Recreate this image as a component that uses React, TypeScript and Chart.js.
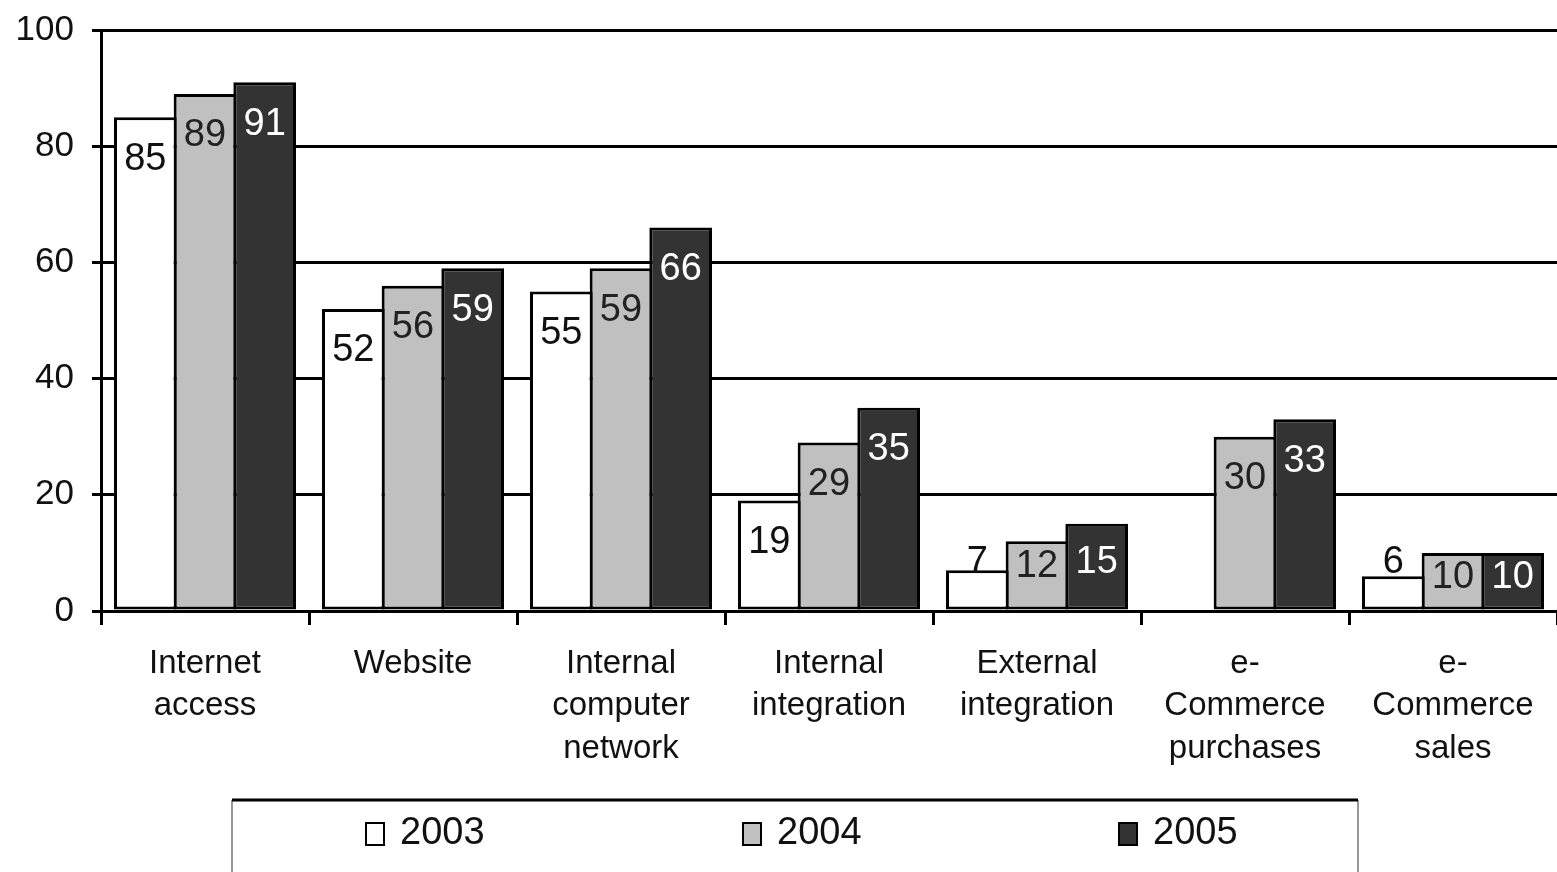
import React, { useEffect, useRef } from "react";
import { Chart, registerables } from "chart.js";

Chart.register(...registerables);

const categories: string[][] = [
  ["Internet", "access"],
  ["Website"],
  ["Internal", "computer", "network"],
  ["Internal", "integration"],
  ["External", "integration"],
  ["e-", "Commerce", "purchases"],
  ["e-", "Commerce", "sales"],
];
const seriesNames = ["2003", "2004", "2005"];
const values2003: (number | null)[] = [85, 52, 55, 19, 7, null, 6];
const values2004: (number | null)[] = [89, 56, 59, 29, 12, 30, 10];
const values2005: (number | null)[] = [91, 59, 66, 35, 15, 33, 10];
const yTicks = [0, 20, 40, 60, 80, 100];

const FONT = "'Liberation Sans', Arial, sans-serif";
const fills = ["#ffffff", "#c0c0c0", "#333333"];
const labelColors = ["#111111", "#222222", "#ffffff"];

const dataLabels = {
  id: "dataLabels",
  afterDatasetsDraw(chart: any) {
    const ctx = chart.ctx;
    const base = chart.scales.y.getPixelForValue(0);
    ctx.save();
    ctx.font = `38px ${FONT}`;
    ctx.textAlign = "center";
    ctx.textBaseline = "middle";
    chart.data.datasets.forEach((ds: any, di: number) => {
      const meta = chart.getDatasetMeta(di);
      meta.data.forEach((el: any, i: number) => {
        const v = ds.data[i];
        if (v === null || v === undefined) return;
        let y = Math.min(el.y + 42, base - 48);
        if (di > 0 && y < el.y + 22) y = el.y + 25;
        ctx.fillStyle = labelColors[di];
        ctx.fillText(String(v), el.x, y);
      });
    });
    ctx.restore();
  },
};

const legendBox = {
  id: "legendBox",
  afterDraw(chart: any) {
    const ctx = chart.ctx;
    ctx.save();
    const left = 232, right = 1358, top = 800, bottom = 880;
    ctx.strokeStyle = "#999999";
    ctx.lineWidth = 2;
    ctx.beginPath();
    ctx.moveTo(left, top);
    ctx.lineTo(left, bottom);
    ctx.moveTo(right, top);
    ctx.lineTo(right, bottom);
    ctx.stroke();
    ctx.strokeStyle = "#000000";
    ctx.lineWidth = 3;
    ctx.beginPath();
    ctx.moveTo(left, top);
    ctx.lineTo(right, top);
    ctx.stroke();
    const xs = [366, 743, 1119];
    ctx.font = `38px ${FONT}`;
    ctx.textBaseline = "middle";
    ctx.textAlign = "left";
    seriesNames.forEach((name, i) => {
      const x = xs[i];
      ctx.fillStyle = fills[i];
      ctx.fillRect(x, 823, 18, 22);
      ctx.strokeStyle = "#000";
      ctx.lineWidth = 2;
      ctx.strokeRect(x, 823, 18, 22);
      ctx.fillStyle = "#111";
      ctx.fillText(name, x + 34, 834);
    });
    ctx.restore();
  },
};

export default function App() {
  const ref = useRef<HTMLCanvasElement | null>(null);
  useEffect(() => {
    if (!ref.current) return;
    const series = [values2003, values2004, values2005];
    const chart = new Chart(ref.current, {
      type: "bar",
      data: {
        labels: categories,
        datasets: series.map((vals, i) => ({
          label: seriesNames[i],
          data: vals,
          backgroundColor: fills[i],
          borderColor: "#000000",
          borderWidth: 3,
          borderSkipped: false,
          categoryPercentage: 0.8606,
          barPercentage: 1.0503,
        })),
      },
      options: {
        animation: false,
        responsive: false,
        devicePixelRatio: 1,
        layout: { padding: { top: 30, left: 0, right: 0, bottom: 0 } },
        plugins: {
          legend: { display: false },
          tooltip: { enabled: false },
          title: { display: false },
        },
        scales: {
          x: {
            grid: {
              display: true,
              drawOnChartArea: false,
              drawTicks: true,
              tickLength: 14,
              color: "#000000",
              lineWidth: 3,
              offset: true,
            },
            border: { display: true, color: "#000000", width: 3 },
            ticks: {
              color: "#111111",
              font: { family: FONT, size: 33, lineHeight: 1.28 },
              padding: 18,
              maxRotation: 0,
              autoSkip: false,
            },
            afterFit(scale: any) {
              scale.height = 261;
              scale.paddingLeft = 0;
              scale.paddingRight = 0;
            },
          },
          y: {
            min: 0,
            max: 100,
            afterBuildTicks(scale: any) {
              scale.ticks = yTicks.map((v) => ({ value: v }));
            },
            grid: {
              color: "#000000",
              lineWidth: 3,
              drawTicks: true,
              tickLength: 9,
            },
            border: { display: true, color: "#000000", width: 3 },
            ticks: {
              color: "#111111",
              font: { family: FONT, size: 35 },
              padding: 18,
            },
            afterFit(scale: any) {
              scale.width = 101;
              scale.paddingTop = 0;
              scale.paddingBottom = 0;
            },
          },
        },
      },
      plugins: [dataLabels, legendBox],
    });
    return () => chart.destroy();
  }, []);
  return (
    <div style={{ position: "absolute", left: 0, top: 0, width: 1557, height: 872, background: "#fff" }}>
      <canvas ref={ref} width={1557} height={872} style={{ display: "block" }} />
    </div>
  );
}
